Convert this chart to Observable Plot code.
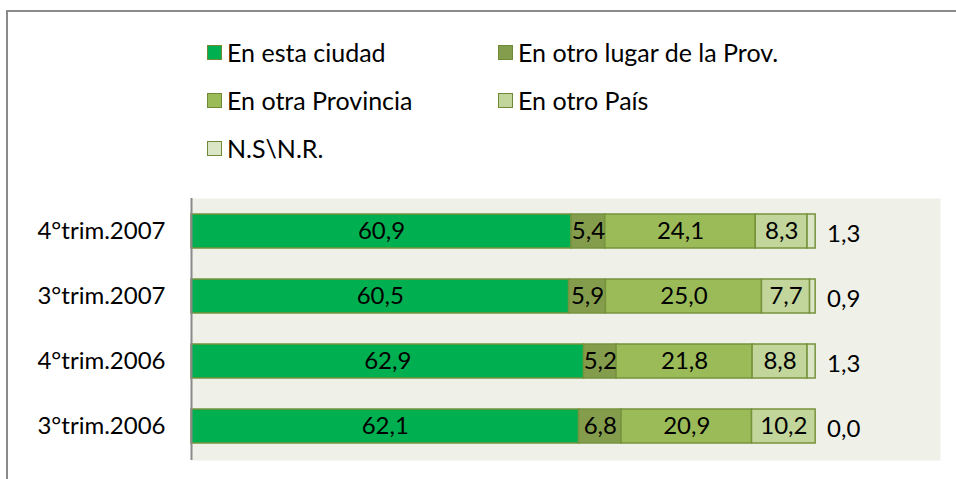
<!DOCTYPE html>
<html>
<head>
<meta charset="utf-8">
<script src="https://cdn.jsdelivr.net/npm/d3@7"></script>
<script src="https://cdn.jsdelivr.net/npm/@observablehq/plot@0.6"></script>
<style>
  html, body { margin: 0; padding: 0; background: #fff; }
  #wrap { position: relative; width: 956px; height: 479px; overflow: hidden; font-family: Lato, "Open Sans", sans-serif; }
  #border { position: absolute; left: 6px; top: 10px; width: 960px; height: 480px; border-top: 2px solid #8a8a8a; border-left: 2px solid #8a8a8a; }
  #legend { position: absolute; left: 0; top: 0; width: 956px; height: 190px; }
  .item { position: absolute; display: flex; align-items: center; font-size: 25px; line-height: 30px; height: 30px; color: #000; white-space: nowrap; }
  .sw { width: 13px; height: 13px; border: 1.5px solid #6f8a37; margin-right: 5px; }
  #chart { position: absolute; left: 0; top: 190px; }
</style>
</head>
<body>
<div id="wrap">
  <div id="border"></div>
  <div id="legend"></div>
  <div id="chart"></div>
</div>
<script>
const categories = ["4°trim.2007", "3°trim.2007", "4°trim.2006", "3°trim.2006"];
const series = ["En esta ciudad", "En otro lugar de la Prov.", "En otra Provincia", "En otro País", "N.S\\N.R."];
const colors = ["#00b050", "#849d4c", "#9bbb59", "#c2d59b", "#dbe6c6"];
const enEstaCiudad = [60.9, 60.5, 62.9, 62.1];
const enOtroLugarProv = [5.4, 5.9, 5.2, 6.8];
const enOtraProvincia = [24.1, 25.0, 21.8, 20.9];
const enOtroPais = [8.3, 7.7, 8.8, 10.2];
const nsnr = [1.3, 0.9, 1.3, 0.0];
const seriesValues = [enEstaCiudad, enOtroLugarProv, enOtraProvincia, enOtroPais, nsnr];

const data = [];
categories.forEach((c, i) => {
  seriesValues.forEach((vals, s) => {
    data.push({cat: c, series: series[s], value: vals[i]});
  });
});
const totals = categories.map((c, i) => ({cat: c, total: d3.sum(seriesValues, v => v[i]), last: nsnr[i]}));
const fmt = v => v.toFixed(1).replace(".", ",");

// Legend (HTML, above the SVG)
const legendPos = [[207, 52], [498, 52], [207, 100], [498, 100], [207, 148]];
const leg = document.getElementById("legend");
series.forEach((s, i) => {
  const it = document.createElement("div");
  it.className = "item";
  it.style.left = legendPos[i][0] + "px";
  it.style.top = (legendPos[i][1] - 15) + "px";
  const sw = document.createElement("div");
  sw.className = "sw";
  sw.style.background = colors[i];
  it.appendChild(sw);
  const t = document.createElement("span");
  t.textContent = s;
  it.appendChild(t);
  leg.appendChild(it);
});

const chart = Plot.plot({
  width: 956,
  height: 289,
  marginTop: 8,
  marginBottom: 19,
  marginLeft: 191,
  marginRight: 16,
  style: {fontFamily: "Lato, 'Open Sans', sans-serif", fontSize: "24px", background: "transparent"},
  x: {domain: [0, 120], axis: null},
  y: {domain: categories, paddingInner: 0.47, paddingOuter: 0.22, label: null, tickSize: 0, tickPadding: 26},
  color: {domain: series, range: colors},
  marks: [
    Plot.frame({fill: "#eff1e9", stroke: null}),
    Plot.axisY({tickSize: 0, tickPadding: 26, fontSize: 24, label: null, fill: "#000"}),
    Plot.barX(data, Plot.stackX({x: "value", y: "cat", fill: "series", order: null, stroke: "#77933c", strokeWidth: 1.5})),
    Plot.text(data.filter(d => d.series !== series[4]), Plot.stackX({x: "value", y: "cat", z: "series", order: null, text: d => fmt(d.value), fill: "#000", fontSize: 24})),
    Plot.text(totals, {x: "total", y: "cat", text: d => fmt(d.last), dx: 28, dy: 3, fill: "#000", fontSize: 24}),
    Plot.ruleX([0], {stroke: "#8a8a8a", strokeWidth: 2})
  ]
});
document.getElementById("chart").appendChild(chart);
</script>
</body>
</html>
